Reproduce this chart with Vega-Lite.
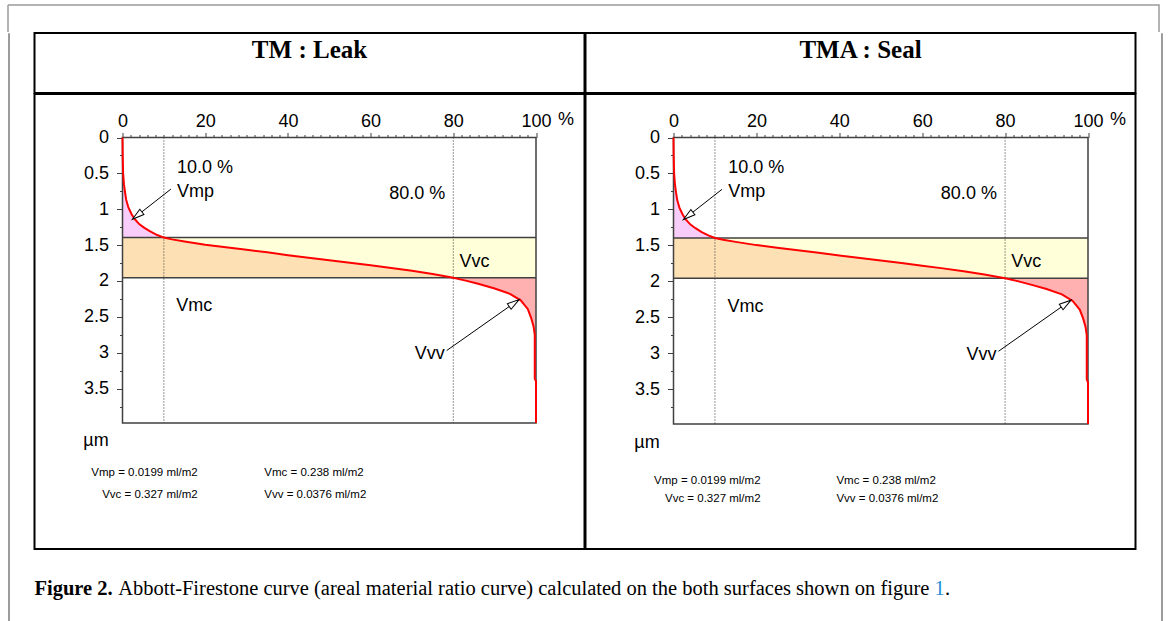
{
  "$schema": "https://vega.github.io/schema/vega-lite/v6.json",
  "background": "white",
  "padding": {"left": 7, "top": 4, "right": 0, "bottom": 0},
  "datasets": {
    "curve": [
      {"mr": 0, "h": 0}, {"mr": 0.05, "h": 0.25}, {"mr": 0.15, "h": 0.5}, {"mr": 0.35, "h": 0.65},
      {"mr": 0.6, "h": 0.76}, {"mr": 0.9, "h": 0.87}, {"mr": 1.4, "h": 0.97}, {"mr": 2.2, "h": 1.07},
      {"mr": 3.0, "h": 1.14}, {"mr": 4.1, "h": 1.21}, {"mr": 5.3, "h": 1.26}, {"mr": 6.7, "h": 1.31},
      {"mr": 8.4, "h": 1.36}, {"mr": 10, "h": 1.395}, {"mr": 12, "h": 1.42}, {"mr": 15, "h": 1.45},
      {"mr": 20, "h": 1.495}, {"mr": 25, "h": 1.53}, {"mr": 30, "h": 1.565}, {"mr": 35, "h": 1.6},
      {"mr": 40, "h": 1.64}, {"mr": 45, "h": 1.675}, {"mr": 50, "h": 1.71}, {"mr": 55, "h": 1.745},
      {"mr": 60, "h": 1.78}, {"mr": 65, "h": 1.818}, {"mr": 70, "h": 1.858}, {"mr": 75, "h": 1.903},
      {"mr": 80, "h": 1.955}, {"mr": 83, "h": 1.995}, {"mr": 86, "h": 2.04}, {"mr": 90, "h": 2.105},
      {"mr": 93.7, "h": 2.18}, {"mr": 96.3, "h": 2.27}, {"mr": 98, "h": 2.39}, {"mr": 98.8, "h": 2.51},
      {"mr": 99.4, "h": 2.63}, {"mr": 99.7, "h": 2.75}, {"mr": 99.7, "h": 3.36}, {"mr": 100, "h": 3.4},
      {"mr": 100, "h": 3.98}
    ],
    "cuts": [{"mr": 10, "h": 1.395}, {"mr": 80, "h": 1.955}],
    "arrows": [
      {"name": "Vmp", "mr": 11.7, "h": 0.72, "tipMr": 2.4, "tipH": 1.14},
      {"name": "Vvv", "mr": 78.4, "h": 2.97, "tipMr": 95.9, "tipH": 2.26}
    ],
    "notes": [
      {"text": "10.0 %", "mr": 13.2, "h": 0.5},
      {"text": "Vmp", "mr": 13.2, "h": 0.83},
      {"text": "80.0 %", "mr": 64.5, "h": 0.86},
      {"text": "Vvc", "mr": 81.5, "h": 1.8},
      {"text": "Vmc", "mr": 13.0, "h": 2.42},
      {"text": "Vvv", "mr": 70.7, "h": 3.09}
    ],
    "resultsTM": [
      {"text": "Vmp = 0.0199 ml/m2", "col": 1, "mr": 18.2, "h": 4.72},
      {"text": "Vvc = 0.327 ml/m2", "col": 1, "mr": 18.2, "h": 5.02},
      {"text": "Vmc = 0.238 ml/m2", "col": 2, "mr": 34.3, "h": 4.72},
      {"text": "Vvv = 0.0376 ml/m2", "col": 2, "mr": 34.3, "h": 5.02}
    ],
    "resultsTMA": [
      {"text": "Vmp = 0.0199 ml/m2", "col": 1, "mr": 21.0, "h": 4.81},
      {"text": "Vvc = 0.327 ml/m2", "col": 1, "mr": 21.0, "h": 5.06},
      {"text": "Vmc = 0.238 ml/m2", "col": 2, "mr": 39.3, "h": 4.81},
      {"text": "Vvv = 0.0376 ml/m2", "col": 2, "mr": 39.3, "h": 5.06}
    ]
  },
  "spacing": -2.75,
  "vconcat": [
    {
      "width": 1151, "height": 27,
      "view": {"stroke": "#9c9c9c", "strokeWidth": 1.5, "strokeDash": [1178, 1151, 27, 0]},
      "data": {"values": [{}]},
      "mark": {"type": "text", "text": ""}
    },
    {
      "spacing": 23.5,
      "hconcat": [
        {
          "width": 1, "height": 600,
          "view": {"stroke": "#9c9c9c", "strokeWidth": 1},
          "data": {"values": [{}]},
          "mark": {"type": "text", "text": ""}
        },
        {
          "spacing": -2,
          "vconcat": [
            {
              "spacing": -2,
              "hconcat": [
                {
                  "width": 550, "height": 60,
                  "view": {"stroke": "black", "strokeWidth": 2},
                  "data": {"values": [{"panel": "TM : Leak"}]},
                  "mark": {"type": "text", "font": "Liberation Serif", "fontSize": 25, "fontWeight": "bold", "baseline": "alphabetic", "dy": -5},
                  "encoding": {"text": {"field": "panel"}}
                },
                {
                  "width": 550, "height": 60,
                  "view": {"stroke": "black", "strokeWidth": 2},
                  "data": {"values": [{"panel": "TMA : Seal"}]},
                  "mark": {"type": "text", "font": "Liberation Serif", "fontSize": 25, "fontWeight": "bold", "baseline": "alphabetic", "dy": -5},
                  "encoding": {"text": {"field": "panel"}}
                }
              ]
            },
            {
              "spacing": -2,
              "hconcat": [
                {
                  "width": 550, "height": 455,
                  "view": {"stroke": "black", "strokeWidth": 2},
                  "layer": [
                    {
                      "data": {"name": "curve"},
                      "transform": [{"filter": "datum.h <= 1.395"}],
                      "mark": {"type": "area", "orient": "horizontal", "fill": "#f9cdf9"},
                      "encoding": {
                        "x": {
                          "field": "mr", "type": "quantitative", "stack": null,
                          "scale": {"domain": [0, 100], "range": [88, 501.5], "nice": false, "zero": false},
                          "axis": {
                            "orient": "top", "offset": -43.5, "labelOverlap": false, "tickCount": 200,
                            "values": [0,2,4,6,8,10,12,14,16,18,20,22,24,26,28,30,32,34,36,38,40,42,44,46,48,50,52,54,56,58,60,62,64,66,68,70,72,74,76,78,80,82,84,86,88,90,92,94,96,98,100],
                            "labelExpr": "datum.value % 20 === 0 ? '' + datum.value : ''",
                            "tickSize": {"condition": {"test": "datum.value % 20 === 0", "value": 5}, "value": 3},
                            "labelPadding": 2,
                            "title": "%", "titleX": 523, "titleY": -13, "titleAlign": "left", "titleBaseline": "alphabetic", "titleAnchor": null
                          }
                        },
                        "x2": {"datum": 0},
                        "y": {
                          "field": "h", "type": "quantitative",
                          "scale": {"domain": [0, 3.98], "range": [43.5, 329], "nice": false, "zero": false},
                          "axis": {
                            "orient": "left", "offset": -88, "labelOverlap": false, "tickCount": 200,
                            "values": [0,0.25,0.5,0.75,1,1.25,1.5,1.75,2,2.25,2.5,2.75,3,3.25,3.5,3.75],
                            "labelExpr": "datum.value % 0.5 === 0 ? '' + datum.value : ''",
                            "tickSize": {"condition": {"test": "datum.value % 0.5 === 0", "value": 6}, "value": 3},
                            "labelPadding": 8,
                            "title": "µm", "titleAngle": 0, "titleX": -27, "titleY": 351, "titleAlign": "center", "titleBaseline": "alphabetic", "titleAnchor": null
                          }
                        }
                      }
                    },
                    {
                      "data": {"name": "curve"},
                      "transform": [{"filter": "datum.h >= 1.395 && datum.h <= 1.955"}],
                      "mark": {"type": "area", "orient": "horizontal", "fill": "#fde1b4"},
                      "encoding": {"x": {"field": "mr", "type": "quantitative", "stack": null}, "x2": {"datum": 0}, "y": {"field": "h", "type": "quantitative"}}
                    },
                    {
                      "data": {"name": "curve"},
                      "transform": [{"filter": "datum.h >= 1.395 && datum.h <= 1.955"}],
                      "mark": {"type": "area", "orient": "horizontal", "fill": "#ffffd9"},
                      "encoding": {"x": {"field": "mr", "type": "quantitative", "stack": null}, "x2": {"datum": 100}, "y": {"field": "h", "type": "quantitative"}}
                    },
                    {
                      "data": {"name": "curve"},
                      "transform": [{"filter": "datum.h >= 1.955 && datum.h <= 3.4"}],
                      "mark": {"type": "area", "orient": "horizontal", "fill": "#ffb1b1"},
                      "encoding": {"x": {"field": "mr", "type": "quantitative", "stack": null}, "x2": {"datum": 100}, "y": {"field": "h", "type": "quantitative"}}
                    },
                    {
                      "data": {"name": "cuts"},
                      "mark": {"type": "rule", "color": "#404040", "strokeWidth": 1.5},
                      "encoding": {"y": {"field": "h", "type": "quantitative"}, "x": {"datum": 0}, "x2": {"datum": 100}}
                    },
                    {
                      "data": {"name": "cuts"},
                      "mark": {"type": "rule", "color": "#303030", "strokeWidth": 1, "strokeDash": [1, 2]},
                      "encoding": {"x": {"field": "mr", "type": "quantitative"}, "y": {"datum": 0}, "y2": {"datum": 3.98}}
                    },
                    {
                      "data": {"values": [{}]},
                      "mark": {"type": "rect", "fillOpacity": 0, "stroke": "#404040", "strokeWidth": 1.5},
                      "encoding": {"x": {"datum": 0}, "x2": {"datum": 100}, "y": {"datum": 0}, "y2": {"datum": 3.98}}
                    },
                    {
                      "data": {"name": "curve"},
                      "mark": {"type": "line", "color": "#ff0000", "strokeWidth": 2},
                      "encoding": {"x": {"field": "mr", "type": "quantitative"}, "y": {"field": "h", "type": "quantitative"}, "order": {"field": "h", "type": "quantitative"}}
                    },
                    {
                      "data": {"name": "arrows"},
                      "mark": {"type": "rule", "color": "black", "strokeWidth": 1},
                      "encoding": {"x": {"field": "mr", "type": "quantitative"}, "y": {"field": "h", "type": "quantitative"}, "x2": {"field": "tipMr"}, "y2": {"field": "tipH"}}
                    },
                    {
                      "data": {"name": "arrows"},
                      "transform": [{"filter": "datum.name === 'Vmp'"}],
                      "mark": {"type": "point", "shape": "M0,0L0.55,2L-0.55,2Z", "size": 144, "angle": 232, "filled": true, "fill": "white", "stroke": "black", "strokeWidth": 1, "opacity": 1},
                      "encoding": {"x": {"field": "tipMr", "type": "quantitative"}, "y": {"field": "tipH", "type": "quantitative"}}
                    },
                    {
                      "data": {"name": "arrows"},
                      "transform": [{"filter": "datum.name === 'Vvv'"}],
                      "mark": {"type": "point", "shape": "M0,0L0.55,2L-0.55,2Z", "size": 144, "angle": 55, "filled": true, "fill": "white", "stroke": "black", "strokeWidth": 1, "opacity": 1},
                      "encoding": {"x": {"field": "tipMr", "type": "quantitative"}, "y": {"field": "tipH", "type": "quantitative"}}
                    },
                    {
                      "data": {"name": "notes"},
                      "mark": {"type": "text", "align": "left", "baseline": "alphabetic"},
                      "encoding": {"x": {"field": "mr", "type": "quantitative"}, "y": {"field": "h", "type": "quantitative"}, "text": {"field": "text"}}
                    },
                    {
                      "data": {"name": "resultsTM"},
                      "transform": [{"filter": "datum.col === 1"}],
                      "mark": {"type": "text", "align": "right", "baseline": "alphabetic", "font": "Liberation Sans", "fontSize": 11.5},
                      "encoding": {"x": {"field": "mr", "type": "quantitative"}, "y": {"field": "h", "type": "quantitative"}, "text": {"field": "text"}}
                    },
                    {
                      "data": {"name": "resultsTM"},
                      "transform": [{"filter": "datum.col === 2"}],
                      "mark": {"type": "text", "align": "left", "baseline": "alphabetic", "font": "Liberation Sans", "fontSize": 11.5},
                      "encoding": {"x": {"field": "mr", "type": "quantitative"}, "y": {"field": "h", "type": "quantitative"}, "text": {"field": "text"}}
                    }
                  ]
                },
                {
                  "width": 550, "height": 455,
                  "view": {"stroke": "black", "strokeWidth": 2},
                  "layer": [
                    {
                      "data": {"name": "curve"},
                      "transform": [{"filter": "datum.h <= 1.395"}],
                      "mark": {"type": "area", "orient": "horizontal", "fill": "#f9cdf9"},
                      "encoding": {
                        "x": {
                          "field": "mr", "type": "quantitative", "stack": null,
                          "scale": {"domain": [0, 100], "range": [88, 502.5], "nice": false, "zero": false},
                          "axis": {
                            "orient": "top", "offset": -43.5, "labelOverlap": false, "tickCount": 200,
                            "values": [0,2,4,6,8,10,12,14,16,18,20,22,24,26,28,30,32,34,36,38,40,42,44,46,48,50,52,54,56,58,60,62,64,66,68,70,72,74,76,78,80,82,84,86,88,90,92,94,96,98,100],
                            "labelExpr": "datum.value % 20 === 0 ? '' + datum.value : ''",
                            "tickSize": {"condition": {"test": "datum.value % 20 === 0", "value": 5}, "value": 3},
                            "labelPadding": 2,
                            "title": "%", "titleX": 524, "titleY": -13, "titleAlign": "left", "titleBaseline": "alphabetic", "titleAnchor": null
                          }
                        },
                        "x2": {"datum": 0},
                        "y": {
                          "field": "h", "type": "quantitative",
                          "scale": {"domain": [0, 3.98], "range": [43.5, 330], "nice": false, "zero": false},
                          "axis": {
                            "orient": "left", "offset": -88, "labelOverlap": false, "tickCount": 200,
                            "values": [0,0.25,0.5,0.75,1,1.25,1.5,1.75,2,2.25,2.5,2.75,3,3.25,3.5,3.75],
                            "labelExpr": "datum.value % 0.5 === 0 ? '' + datum.value : ''",
                            "tickSize": {"condition": {"test": "datum.value % 0.5 === 0", "value": 6}, "value": 3},
                            "labelPadding": 8,
                            "title": "µm", "titleAngle": 0, "titleX": -27, "titleY": 353, "titleAlign": "center", "titleBaseline": "alphabetic", "titleAnchor": null
                          }
                        }
                      }
                    },
                    {
                      "data": {"name": "curve"},
                      "transform": [{"filter": "datum.h >= 1.395 && datum.h <= 1.955"}],
                      "mark": {"type": "area", "orient": "horizontal", "fill": "#fde1b4"},
                      "encoding": {"x": {"field": "mr", "type": "quantitative", "stack": null}, "x2": {"datum": 0}, "y": {"field": "h", "type": "quantitative"}}
                    },
                    {
                      "data": {"name": "curve"},
                      "transform": [{"filter": "datum.h >= 1.395 && datum.h <= 1.955"}],
                      "mark": {"type": "area", "orient": "horizontal", "fill": "#ffffd9"},
                      "encoding": {"x": {"field": "mr", "type": "quantitative", "stack": null}, "x2": {"datum": 100}, "y": {"field": "h", "type": "quantitative"}}
                    },
                    {
                      "data": {"name": "curve"},
                      "transform": [{"filter": "datum.h >= 1.955 && datum.h <= 3.4"}],
                      "mark": {"type": "area", "orient": "horizontal", "fill": "#ffb1b1"},
                      "encoding": {"x": {"field": "mr", "type": "quantitative", "stack": null}, "x2": {"datum": 100}, "y": {"field": "h", "type": "quantitative"}}
                    },
                    {
                      "data": {"name": "cuts"},
                      "mark": {"type": "rule", "color": "#404040", "strokeWidth": 1.5},
                      "encoding": {"y": {"field": "h", "type": "quantitative"}, "x": {"datum": 0}, "x2": {"datum": 100}}
                    },
                    {
                      "data": {"name": "cuts"},
                      "mark": {"type": "rule", "color": "#303030", "strokeWidth": 1, "strokeDash": [1, 2]},
                      "encoding": {"x": {"field": "mr", "type": "quantitative"}, "y": {"datum": 0}, "y2": {"datum": 3.98}}
                    },
                    {
                      "data": {"values": [{}]},
                      "mark": {"type": "rect", "fillOpacity": 0, "stroke": "#404040", "strokeWidth": 1.5},
                      "encoding": {"x": {"datum": 0}, "x2": {"datum": 100}, "y": {"datum": 0}, "y2": {"datum": 3.98}}
                    },
                    {
                      "data": {"name": "curve"},
                      "mark": {"type": "line", "color": "#ff0000", "strokeWidth": 2},
                      "encoding": {"x": {"field": "mr", "type": "quantitative"}, "y": {"field": "h", "type": "quantitative"}, "order": {"field": "h", "type": "quantitative"}}
                    },
                    {
                      "data": {"name": "arrows"},
                      "mark": {"type": "rule", "color": "black", "strokeWidth": 1},
                      "encoding": {"x": {"field": "mr", "type": "quantitative"}, "y": {"field": "h", "type": "quantitative"}, "x2": {"field": "tipMr"}, "y2": {"field": "tipH"}}
                    },
                    {
                      "data": {"name": "arrows"},
                      "transform": [{"filter": "datum.name === 'Vmp'"}],
                      "mark": {"type": "point", "shape": "M0,0L0.55,2L-0.55,2Z", "size": 144, "angle": 232, "filled": true, "fill": "white", "stroke": "black", "strokeWidth": 1, "opacity": 1},
                      "encoding": {"x": {"field": "tipMr", "type": "quantitative"}, "y": {"field": "tipH", "type": "quantitative"}}
                    },
                    {
                      "data": {"name": "arrows"},
                      "transform": [{"filter": "datum.name === 'Vvv'"}],
                      "mark": {"type": "point", "shape": "M0,0L0.55,2L-0.55,2Z", "size": 144, "angle": 55, "filled": true, "fill": "white", "stroke": "black", "strokeWidth": 1, "opacity": 1},
                      "encoding": {"x": {"field": "tipMr", "type": "quantitative"}, "y": {"field": "tipH", "type": "quantitative"}}
                    },
                    {
                      "data": {"name": "notes"},
                      "mark": {"type": "text", "align": "left", "baseline": "alphabetic"},
                      "encoding": {"x": {"field": "mr", "type": "quantitative"}, "y": {"field": "h", "type": "quantitative"}, "text": {"field": "text"}}
                    },
                    {
                      "data": {"name": "resultsTMA"},
                      "transform": [{"filter": "datum.col === 1"}],
                      "mark": {"type": "text", "align": "right", "baseline": "alphabetic", "font": "Liberation Sans", "fontSize": 11.5},
                      "encoding": {"x": {"field": "mr", "type": "quantitative"}, "y": {"field": "h", "type": "quantitative"}, "text": {"field": "text"}}
                    },
                    {
                      "data": {"name": "resultsTMA"},
                      "transform": [{"filter": "datum.col === 2"}],
                      "mark": {"type": "text", "align": "left", "baseline": "alphabetic", "font": "Liberation Sans", "fontSize": 11.5},
                      "encoding": {"x": {"field": "mr", "type": "quantitative"}, "y": {"field": "h", "type": "quantitative"}, "text": {"field": "text"}}
                    }
                  ]
                }
              ]
            },
            {
              "width": 1100, "height": 74,
              "layer": [
                {
                  "data": {"values": [{"part": "Figure 2."}]},
                  "mark": {"type": "text", "align": "left", "baseline": "alphabetic", "dy": 8, "font": "Liberation Serif", "fontSize": 20.5, "fontWeight": "bold"},
                  "encoding": {"text": {"field": "part"}, "x": {"datum": 0, "type": "quantitative", "scale": {"domain": [0, 1]}, "axis": null}}
                },
                {
                  "data": {"values": [{"part": "Abbott-Firestone curve (areal material ratio curve) calculated on the both surfaces shown on figure"}]},
                  "mark": {"type": "text", "align": "left", "baseline": "alphabetic", "dy": 8, "dx": 83.7, "font": "Liberation Serif", "fontSize": 20.5},
                  "encoding": {"text": {"field": "part"}, "x": {"datum": 0, "type": "quantitative"}}
                },
                {
                  "data": {"values": [{"part": "1"}]},
                  "mark": {"type": "text", "align": "left", "baseline": "alphabetic", "dy": 8, "dx": 900.1, "font": "Liberation Serif", "fontSize": 20.5, "color": "#1f8dd6"},
                  "encoding": {"text": {"field": "part"}, "x": {"datum": 0, "type": "quantitative"}}
                },
                {
                  "data": {"values": [{"part": "."}]},
                  "mark": {"type": "text", "align": "left", "baseline": "alphabetic", "dy": 8, "dx": 910.4, "font": "Liberation Serif", "fontSize": 20.5},
                  "encoding": {"text": {"field": "part"}, "x": {"datum": 0, "type": "quantitative"}}
                }
              ]
            }
          ]
        },
        {
          "width": 1, "height": 600,
          "view": {"stroke": "#9c9c9c", "strokeWidth": 1},
          "data": {"values": [{}]},
          "mark": {"type": "text", "text": ""}
        }
      ]
    }
  ],
  "config": {
    "view": {"stroke": null},
    "axis": {
      "domain": false, "grid": false,
      "labelFont": "Liberation Sans", "labelFontSize": 18, "labelColor": "black",
      "tickColor": "#404040", "tickWidth": 1,
      "labelOverlap": false, "labelFlush": false, "labelBound": false,
      "titleFont": "Liberation Sans", "titleFontSize": 18, "titleFontWeight": "normal", "titleColor": "black"
    },
    "text": {"font": "Liberation Sans", "fontSize": 18, "color": "black"}
  }
}
